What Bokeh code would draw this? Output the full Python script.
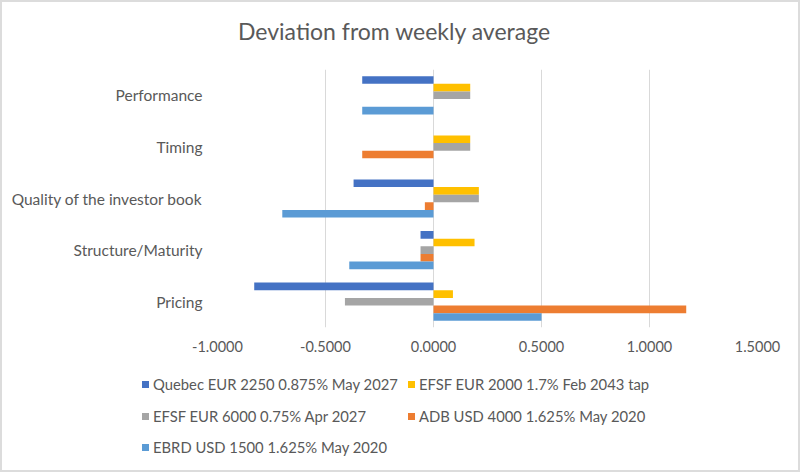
from bokeh.plotting import figure
from bokeh.layouts import column
from bokeh.models import ColumnDataSource, FactorRange, NumeralTickFormatter, FixedTicker, Div
from bokeh.transform import dodge
from bokeh.embed import file_html
from bokeh.resources import INLINE

# Categories, top to bottom
categories = ["Performance", "Timing", "Quality of the investor book", "Structure/Maturity", "Pricing"]

series_names = [
    "Quebec EUR 2250 0.875% May 2027",
    "EFSF EUR 2000 1.7% Feb 2043 tap",
    "EFSF EUR 6000 0.75% Apr 2027",
    "ADB USD 4000 1.625% May 2020",
    "EBRD USD 1500 1.625% May 2020",
]

quebec = [-0.33, 0.0, -0.37, -0.06, -0.83]
efsf_2000 = [0.17, 0.17, 0.21, 0.19, 0.09]
efsf_6000 = [0.17, 0.17, 0.21, -0.06, -0.41]
adb = [0.0, -0.33, -0.04, -0.06, 1.17]
ebrd = [-0.33, 0.0, -0.70, -0.39, 0.50]

x_ticks = [-1.0, -0.5, 0.0, 0.5, 1.0, 1.5]

title_text = "Deviation from weekly average"

colors = ["#4472C4", "#FFC000", "#A5A5A5", "#ED7D31", "#5B9BD5"]
bar_h = 0.148
offsets = [2 * bar_h, bar_h, 0.0, -bar_h, -2 * bar_h]

FONT = "Lato"
TXT = "#595959"

source = ColumnDataSource(dict(cat=categories, s0=quebec, s1=efsf_2000, s2=efsf_6000, s3=adb, s4=ebrd))

# Inner size (the page border takes 2px on each side)
W = 796
TITLE_H = 67
PLOT_H = 296
LEG_H = 468 - TITLE_H - PLOT_H

# Title strip
title_div = Div(
    text=(f'<div style="position:relative;width:{W}px;height:{TITLE_H}px;">'
          f'<div style="position:absolute;left:236px;top:16px;white-space:nowrap;'
          f'font-family:{FONT};font-size:23px;line-height:1.2;color:{TXT};">{title_text}</div></div>'),
    width=W, height=TITLE_H, margin=0,
)

p = figure(
    width=W, height=PLOT_H,
    y_range=FactorRange(*reversed(categories)),
    x_range=(-1.0, 1.5),
    output_backend="svg", toolbar_location=None,
    min_border_left=215, min_border_right=41,
    min_border_top=0, min_border_bottom=38,
)

for i, (col, off) in enumerate(zip(colors, offsets)):
    p.hbar(y=dodge("cat", off, range=p.y_range), left=0, right=f"s{i}",
           height=bar_h, color=col, line_color=None, source=source)

p.outline_line_color = None
p.xgrid.grid_line_color = "#d9d9d9"
p.xgrid.grid_line_width = 1
p.ygrid.grid_line_color = None

p.xaxis.ticker = FixedTicker(ticks=x_ticks)
p.xaxis.formatter = NumeralTickFormatter(format="0.0000")
for ax in (p.xaxis[0], p.yaxis[0]):
    ax.axis_line_color = None
    ax.major_tick_line_color = None
    ax.minor_tick_line_color = None
    ax.major_label_text_font = FONT
    ax.major_label_text_color = TXT
p.xaxis.major_label_text_font_size = "14.5px"
p.yaxis.major_label_text_font_size = "15.5px"
p.xaxis.major_label_standoff = 7
p.yaxis.major_label_standoff = 9

# Legend strip: two columns, filled row by row
col_x = [140, 406]
row_y = [19, 51, 82]
parts = [f'<div style="position:relative;width:{W}px;height:{LEG_H}px;'
         f'font-family:{FONT};font-size:14.8px;color:{TXT};">']
for k, (name, col) in enumerate(zip(series_names, colors)):
    x = col_x[k % 2]
    y = row_y[k // 2]
    parts.append(
        f'<div style="position:absolute;left:{x}px;top:{y - 3.5}px;width:7px;height:7px;background:{col};"></div>'
        f'<div style="position:absolute;left:{x + 11}px;top:{y - 10}px;line-height:20px;white-space:nowrap;">{name}</div>'
    )
parts.append('</div>')
legend_div = Div(text="".join(parts), width=W, height=LEG_H, margin=0)

layout = column(title_div, p, legend_div, spacing=0,
                styles={"border": "2px solid #dcdcdc"})

open("out.html", "w").write(file_html(layout, INLINE))
